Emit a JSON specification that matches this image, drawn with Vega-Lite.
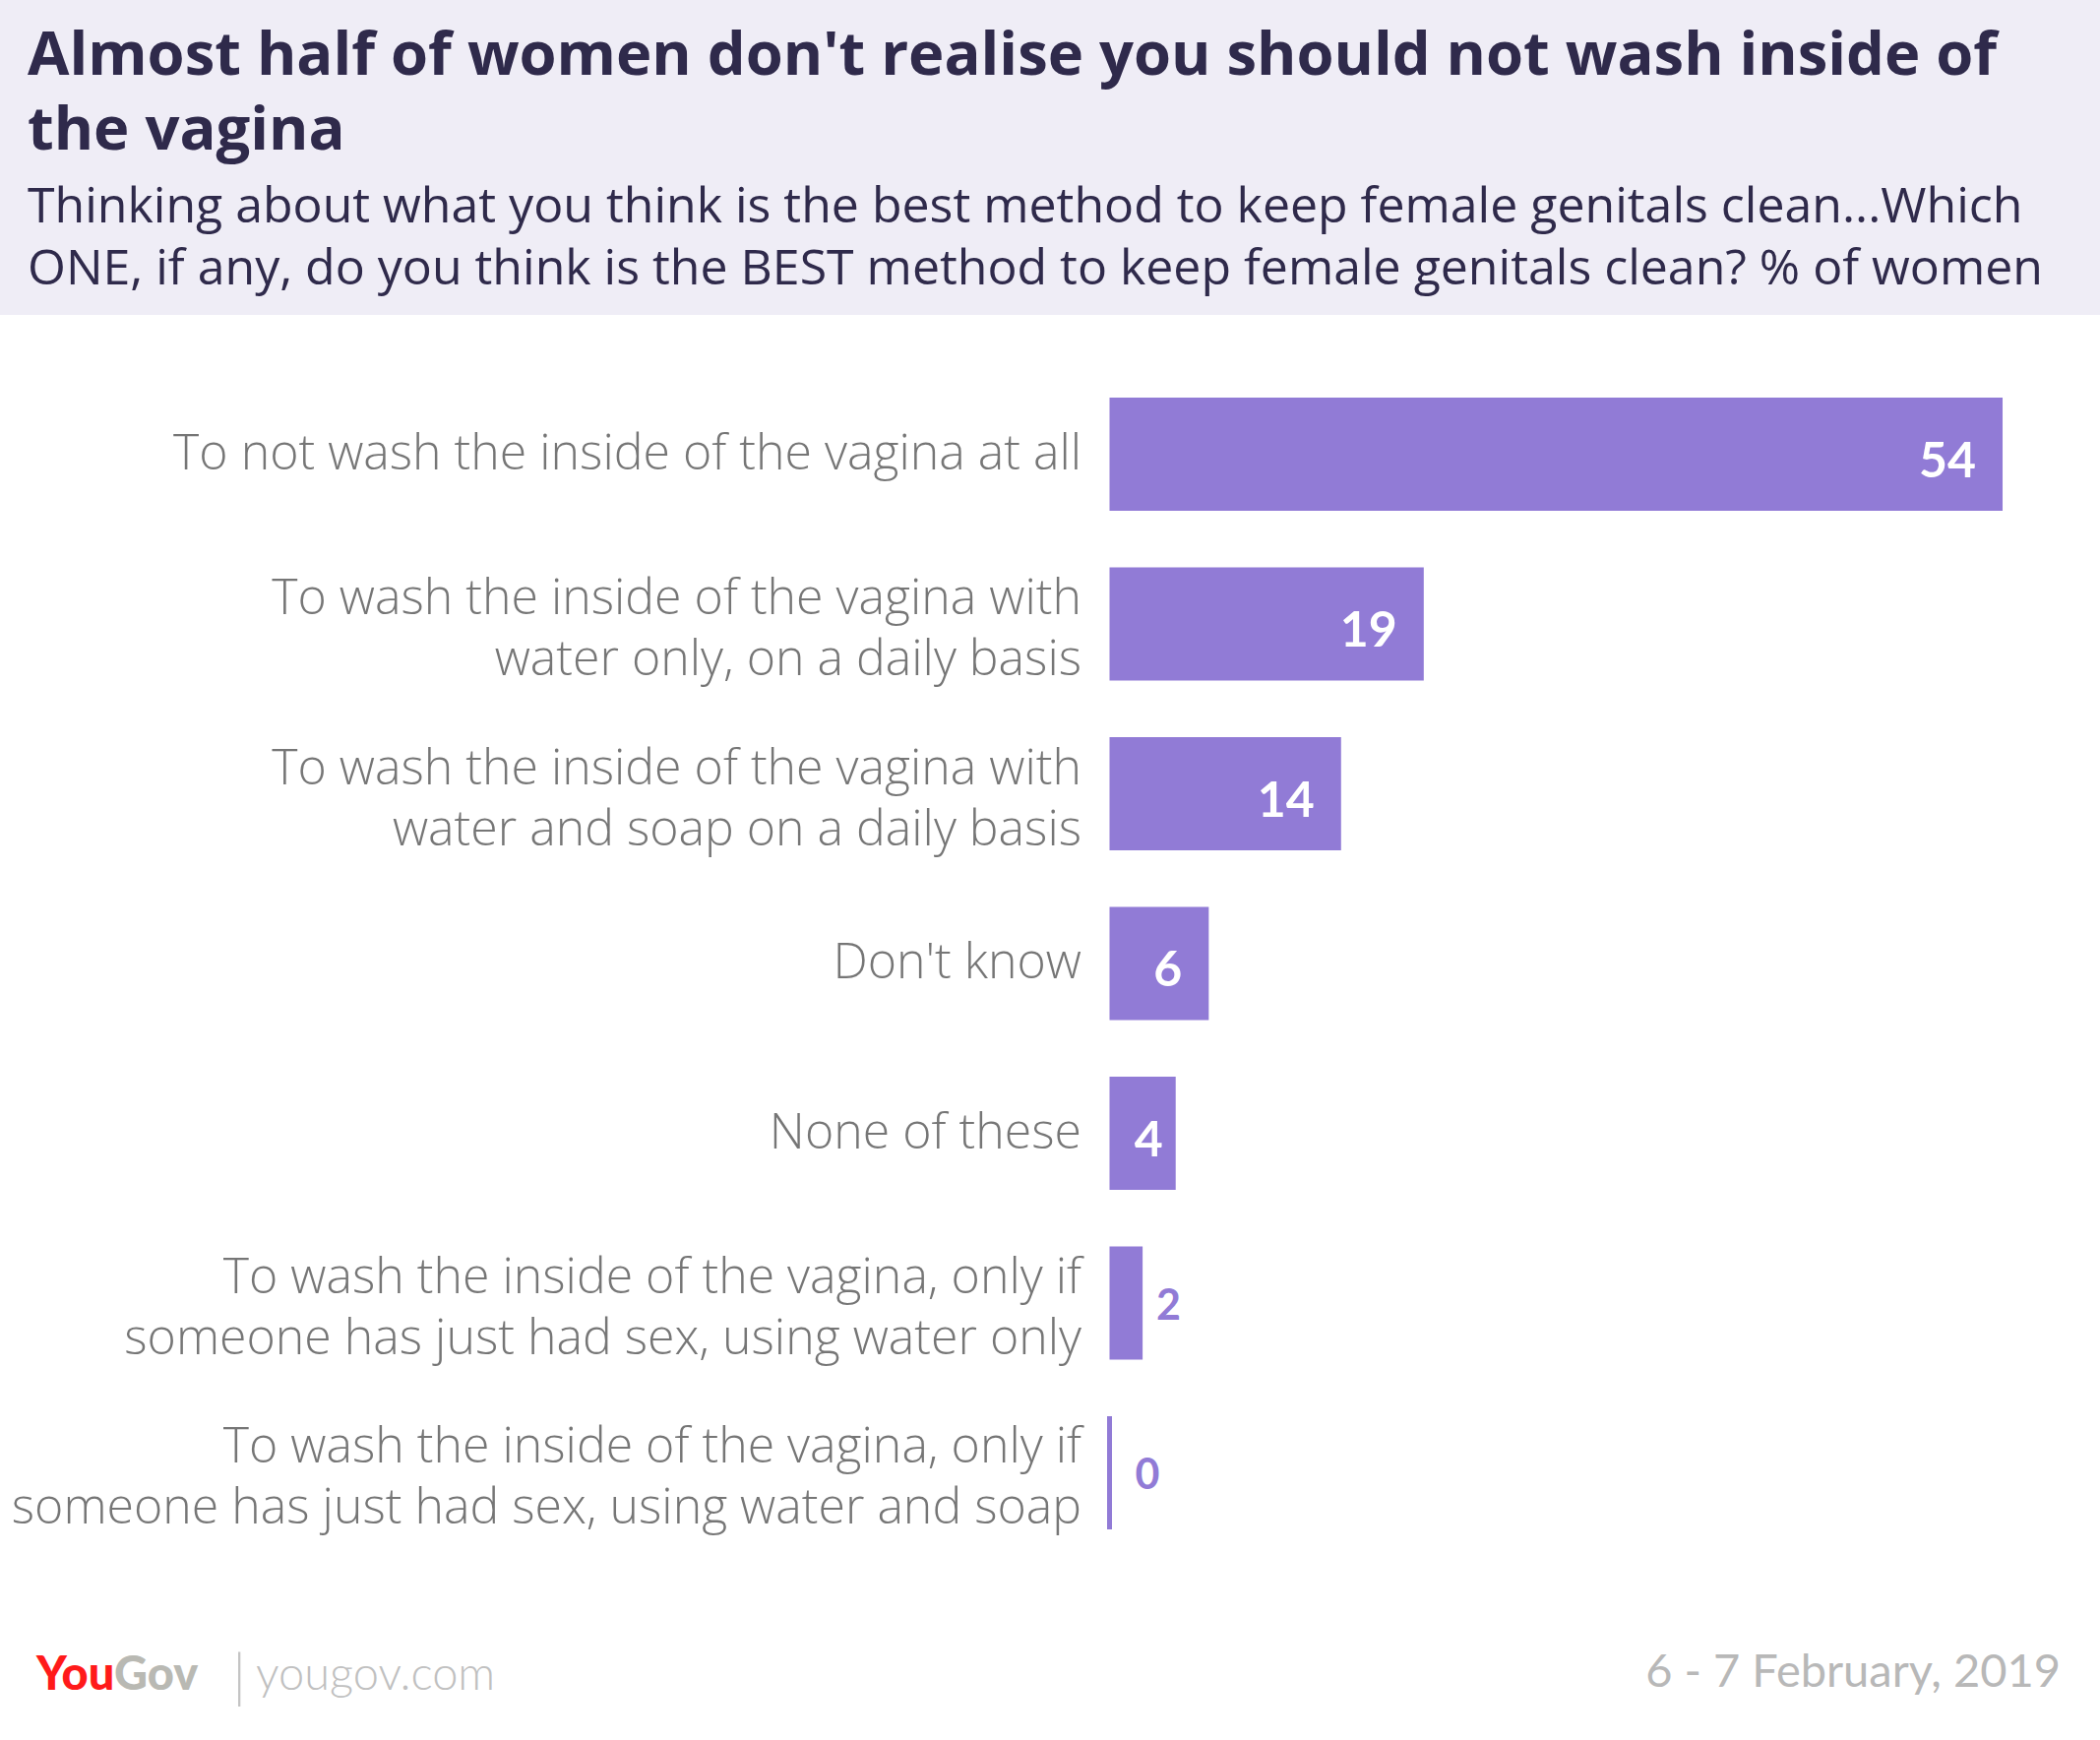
{
  "$schema": "https://vega.github.io/schema/vega-lite/v6.json",
  "width": 2134,
  "height": 1448,
  "autosize": {"type": "none"},
  "padding": {"top": 320, "left": 0, "right": 0, "bottom": 0},
  "background": "#efedf6",
  "config": {"view": {"stroke": null, "fill": "#ffffff"}},
  "title": {
    "text": ["Almost half of women don't realise you should not wash inside of", "the vagina"],
    "subtitle": ["Thinking about what you think is the best method to keep female genitals clean...Which", "ONE, if any, do you think is the BEST method to keep female genitals clean? % of women"],
    "anchor": "start",
    "frame": "group",
    "orient": "top",
    "offset": 21,
    "dx": 28,
    "baseline": "top",
    "font": "Open Sans",
    "fontSize": 61.5,
    "fontWeight": "bold",
    "color": "#2f2a4b",
    "lineHeight": 76,
    "subtitleFont": "Open Sans",
    "subtitleFontSize": 50,
    "subtitleFontWeight": "normal",
    "subtitleColor": "#2f2a4b",
    "subtitleLineHeight": 63,
    "subtitlePadding": 22
  },
  "data": {
    "values": [
      {"label": "To not wash the inside of the vagina at all", "value": 54},
      {"label": "To wash the inside of the vagina with\nwater only, on a daily basis", "value": 19},
      {"label": "To wash the inside of the vagina with\nwater and soap on a daily basis", "value": 14},
      {"label": "Don't know", "value": 6},
      {"label": "None of these", "value": 4},
      {"label": "To wash the inside of the vagina, only if\nsomeone has just had sex, using water only", "value": 2},
      {"label": "To wash the inside of the vagina, only if\nsomeone has just had sex, using water and soap", "value": 0}
    ]
  },
  "encoding": {
    "y": {
      "field": "label",
      "type": "nominal",
      "sort": null,
      "scale": {"paddingInner": 0.333, "paddingOuter": 0.864, "align": 0.282},
      "axis": {
        "title": null,
        "orient": "left",
        "offset": -1127.5,
        "domain": false,
        "ticks": false,
        "labelPadding": 29,
        "labelExpr": "split(datum.label, '\\n')",
        "labelFont": "Open Sans",
        "labelFontWeight": 300,
        "labelFontSize": 50,
        "labelColor": "#767676",
        "labelLineHeight": 62,
        "labelLimit": 0,
        "labelAlign": "right",
        "labelBaseline": "middle",
        "labelOffset": {"condition": {"test": "indexof(datum.value, '\\n') >= 0", "value": -25}, "value": 0}
      }
    },
    "x": {
      "field": "value",
      "type": "quantitative",
      "scale": {"domain": [-67.09, 59.89], "nice": false, "zero": false},
      "axis": null
    }
  },
  "layer": [
    {"mark": {"type": "bar", "color": "#917bd6"}},
    {
      "transform": [{"filter": "datum.value == 0"}],
      "mark": {"type": "bar", "color": "#917bd6", "stroke": "#917bd6", "strokeWidth": 5}
    },
    {
      "transform": [{"filter": "datum.value >= 6"}],
      "mark": {"type": "text", "align": "right", "baseline": "middle", "dx": -27, "dy": 8, "color": "#ffffff", "font": "Lato", "fontWeight": "bold", "fontSize": 50},
      "encoding": {"text": {"field": "value", "type": "quantitative"}}
    },
    {
      "transform": [{"filter": "datum.value >= 3 && datum.value < 6"}],
      "mark": {"type": "text", "align": "right", "baseline": "middle", "dx": -13, "dy": 8, "color": "#ffffff", "font": "Lato", "fontWeight": "bold", "fontSize": 50},
      "encoding": {"text": {"field": "value", "type": "quantitative"}}
    },
    {
      "transform": [{"filter": "datum.value > 0 && datum.value < 3"}],
      "mark": {"type": "text", "align": "left", "baseline": "middle", "dx": 14, "dy": 4, "color": "#917bd6", "font": "Lato", "fontWeight": "bold", "fontSize": 43},
      "encoding": {"text": {"field": "value", "type": "quantitative"}}
    },
    {
      "transform": [{"filter": "datum.value == 0"}],
      "mark": {"type": "text", "align": "left", "baseline": "middle", "dx": 26, "dy": 4, "color": "#917bd6", "font": "Lato", "fontWeight": "bold", "fontSize": 43},
      "encoding": {"text": {"field": "value", "type": "quantitative"}}
    },
    {
      "data": {"values": [{"part": "You"}]},
      "mark": {"type": "text", "align": "left", "baseline": "alphabetic", "dx": 37, "dy": -51, "color": "#ff1a1a", "font": "Lato", "fontWeight": 900, "fontSize": 47},
      "encoding": {"x": {"value": 0}, "y": {"value": "height"}, "text": {"field": "part"}}
    },
    {
      "data": {"values": [{"part": "Gov"}]},
      "mark": {"type": "text", "align": "left", "baseline": "alphabetic", "dx": 116, "dy": -51, "color": "#b9b9b3", "font": "Lato", "fontWeight": 900, "fontSize": 47},
      "encoding": {"x": {"value": 0}, "y": {"value": "height"}, "text": {"field": "part"}}
    },
    {
      "data": {"values": [{"part": "|"}]},
      "mark": {"type": "text", "align": "left", "baseline": "alphabetic", "dx": 236, "dy": -44, "color": "#c4c4c4", "font": "Lato", "fontWeight": 300, "fontSize": 60},
      "encoding": {"x": {"value": 0}, "y": {"value": "height"}, "text": {"field": "part"}}
    },
    {
      "data": {"values": [{"part": "yougov.com"}]},
      "mark": {"type": "text", "align": "left", "baseline": "alphabetic", "dx": 260, "dy": -51, "color": "#c0c0c0", "font": "Lato", "fontWeight": 300, "fontSize": 47},
      "encoding": {"x": {"value": 0}, "y": {"value": "height"}, "text": {"field": "part"}}
    },
    {
      "data": {"values": [{"part": "6 - 7 February, 2019"}]},
      "mark": {"type": "text", "align": "right", "baseline": "alphabetic", "dx": -40, "dy": -54, "color": "#b8b8b8", "font": "Lato", "fontWeight": "normal", "fontSize": 47},
      "encoding": {"x": {"value": "width"}, "y": {"value": "height"}, "text": {"field": "part"}}
    }
  ]
}
